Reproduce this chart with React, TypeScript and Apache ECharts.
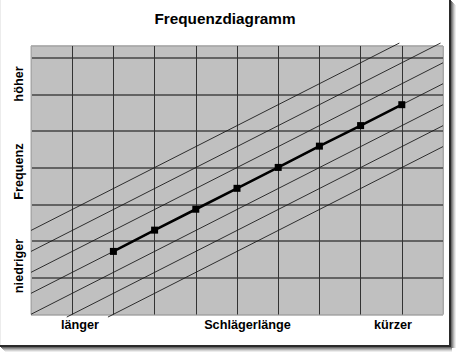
import React, { useEffect, useRef } from "react";
import * as echarts from "echarts";

const chartTitle = "Frequenzdiagramm";
const xPositions = [2, 3, 4, 5, 6, 7, 8, 9];
const frequencies = [1.72, 2.3, 2.87, 3.44, 4.01, 4.59, 5.15, 5.72];
const guideOffsets = [-3, -2, -1, 0, 1, 2, 3];
const xAxisLabels = ["länger", "Schlägerlänge", "kürzer"];
const yAxisLabels = ["niedriger", "Frequenz", "höher"];

const X_MIN = 0;
const X_MAX = 10;
const X_STEP = 1;
const Y_MIN = 0;
const Y_MAX = 7.32;
const Y_STEP = 1;
const Y_LO = -0.07;
const Y_HI = 7.4;

const FONT = '"Liberation Sans", Arial, sans-serif';

function guideLine(k: number): number[][] {
  const n = xPositions.length;
  const x0 = xPositions[0];
  const y0 = frequencies[0];
  const s = (frequencies[n - 1] - y0) / (xPositions[n - 1] - x0);
  const f = (x: number) => y0 + s * (x - x0 - k);
  const xAtY = (y: number) => x0 + k + (y - y0) / s;
  const xa = Math.max(X_MIN, xAtY(Y_LO));
  const xb = Math.min(X_MAX, xAtY(Y_HI));
  return [
    [xa, f(xa)],
    [xb, f(xb)],
  ];
}

export default function App() {
  const ref = useRef<HTMLDivElement>(null);
  useEffect(() => {
    if (!ref.current) return;
    const chart = echarts.init(ref.current, undefined, { renderer: "svg" });
    const light = "#a8a8a8";
    const vDark = "#333333";
    const hDark = "#454545";
    const xColors = [light, ...Array(9).fill(vDark)];
    const yColors = [light, ...Array(7).fill(hDark)];

    const shadowR = ["#6a6a6a", "#909090", "#b4b4b4", "#d4d4d4", "#ececec"];
    const frame: any[] = [
      { type: "rect", shape: { x: 0, y: 0, width: 1, height: 346 }, style: { fill: "#ececec" } },
      { type: "rect", shape: { x: 449, y: 0, width: 2, height: 347 }, style: { fill: "#2a2a2a" } },
      { type: "rect", shape: { x: 0, y: 345, width: 451, height: 2 }, style: { fill: "#2a2a2a" } },
    ];
    shadowR.forEach((c, i) => {
      frame.push({ type: "rect", shape: { x: 451 + i, y: 1 + i, width: 1, height: 347 - i }, style: { fill: c } });
      frame.push({ type: "rect", shape: { x: 1 + i, y: 347 + i, width: 451 - i, height: 1 }, style: { fill: c } });
    });

    const xLabelX = [80, 247.5, 393];
    const yLabelY = [266, 171.5, 84];
    const texts: any[] = [
      {
        type: "text",
        x: 225,
        y: 18.5,
        style: {
          text: chartTitle,
          font: `bold 15.3px ${FONT}`,
          fill: "#000",
          align: "center",
          verticalAlign: "middle",
          textAlign: "center",
          textVerticalAlign: "middle",
        },
      },
      ...xAxisLabels.map((t, i) => ({
        type: "text",
        x: xLabelX[i],
        y: 325,
        style: {
          text: t,
          font: `bold 12.7px ${FONT}`,
          fill: "#000",
          align: "center",
          verticalAlign: "middle",
          textAlign: "center",
          textVerticalAlign: "middle",
        },
      })),
      ...yAxisLabels.map((t, i) => ({
        type: "text",
        x: 19,
        y: yLabelY[i],
        rotation: Math.PI / 2,
        style: {
          text: t,
          font: `bold 12.7px ${FONT}`,
          fill: "#000",
          align: "center",
          verticalAlign: "middle",
          textAlign: "center",
          textVerticalAlign: "middle",
        },
      })),
    ];

    const guideSeries = guideOffsets.map((k) => ({
      type: "line",
      data: guideLine(k),
      clip: false,
      showSymbol: false,
      symbol: "none",
      silent: true,
      lineStyle: { color: "#1c1c1c", width: 0.9 },
      z: 3,
    }));

    chart.setOption({
      animation: false,
      backgroundColor: "#ffffff",
      grid: {
        left: 31,
        top: 46,
        width: 412,
        height: 268.5,
        show: true,
        backgroundColor: "#c0c0c0",
        borderColor: light,
        borderWidth: 1,
      },
      xAxis: {
        type: "value",
        min: X_MIN,
        max: X_MAX,
        interval: X_STEP,
        axisLine: { show: false },
        axisTick: { show: false },
        axisLabel: { show: false },
        splitLine: { show: true, lineStyle: { color: xColors, width: 1 } },
      },
      yAxis: {
        type: "value",
        min: Y_MIN,
        max: Y_MAX,
        interval: Y_STEP,
        axisLine: { show: false },
        axisTick: { show: false },
        axisLabel: { show: false },
        splitLine: { show: true, lineStyle: { color: yColors, width: 1.6 } },
      },
      graphic: [...frame, ...texts],
      series: [
        ...guideSeries,
        {
          type: "line",
          data: xPositions.map((x, i) => [x, frequencies[i]]),
          symbol: "rect",
          symbolSize: 7,
          showSymbol: true,
          itemStyle: { color: "#000" },
          lineStyle: { color: "#000", width: 2.6 },
          z: 5,
        },
      ],
    });
    return () => chart.dispose();
  }, []);
  return (
    <div
      ref={ref}
      style={{ position: "absolute", left: 0, top: 0, width: 460, height: 355 }}
    />
  );
}
